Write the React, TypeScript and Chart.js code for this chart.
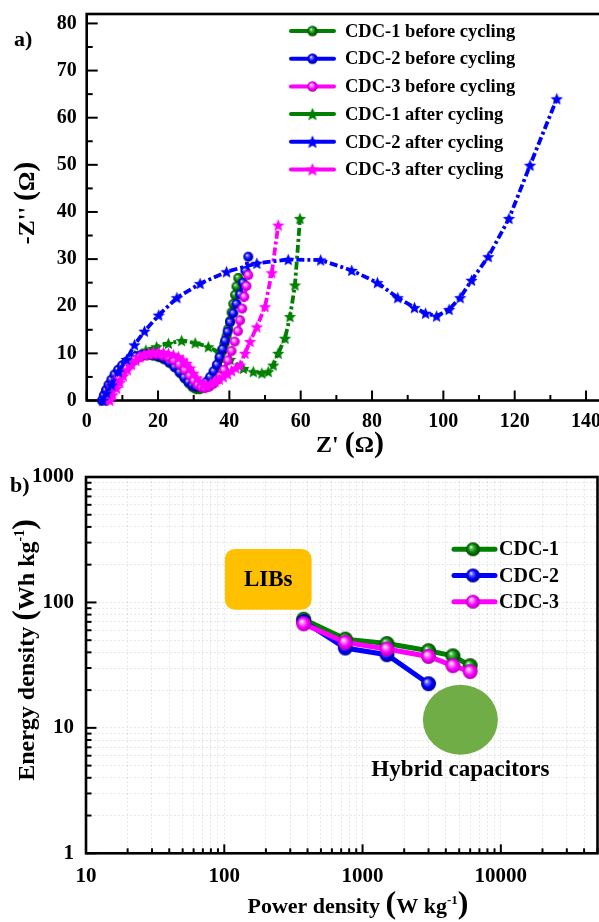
import React, { useEffect, useRef } from 'react';
import { Chart, registerables } from 'chart.js';

Chart.register(...registerables);

const FONT = '"Liberation Serif", "Times New Roman", Times, serif';

// ---------- Panel a) Nyquist plots: Z' (Ω) vs -Z'' (Ω) ----------
const cdc1BeforeRe = [4.5, 5, 5.6, 6.3, 7.1, 8, 9, 10.1, 11.3, 12.6, 14, 15.5, 17, 18.6, 20.2, 21.8, 23.4, 25, 26.4, 27.6, 28.7, 29.7, 30.7, 31.7, 32.7, 33.7, 34.7, 35.6, 36.5, 37.3, 38, 38.6, 39.2, 39.7, 40.2, 40.6, 41.1, 41.6, 42, 42.5];
const cdc1BeforeIm = [0, 1.1, 2.2, 3.3, 4.4, 5.5, 6.5, 7.4, 8.2, 8.8, 9.3, 9.5, 9.6, 9.5, 9.2, 8.7, 7.9, 6.9, 5.7, 4.6, 3.6, 2.8, 2.4, 2.4, 2.8, 3.6, 4.7, 6, 7.4, 8.8, 10.4, 12, 13.6, 15.2, 16.9, 18.7, 20.5, 22.4, 24.2, 26];

const cdc2BeforeRe = [4.3, 4.8, 5.4, 6.1, 6.9, 7.8, 8.8, 9.9, 11.1, 12.4, 13.8, 15.3, 16.8, 18.3, 19.9, 21.5, 23.1, 24.6, 26, 27.3, 28.5, 29.6, 30.6, 31.6, 32.6, 33.6, 34.6, 35.6, 36.5, 37.3, 38.1, 38.8, 39.5, 40.2, 41.1, 42, 43, 43.8, 44.5, 45.3];
const cdc2BeforeIm = [0, 1.1, 2.2, 3.3, 4.4, 5.5, 6.5, 7.4, 8.2, 8.9, 9.4, 9.7, 9.8, 9.7, 9.4, 8.9, 8.1, 7.1, 6, 4.9, 3.9, 3.2, 2.9, 2.9, 3.3, 4, 5, 6.2, 7.6, 9.2, 10.9, 12.7, 14.6, 16.6, 18.5, 20.5, 22.5, 25, 27.5, 30.5];

const cdc3BeforeRe = [5.5, 6, 6.6, 7.3, 8.1, 9, 10, 11.1, 12.3, 13.6, 15, 16.5, 18, 19.6, 21.2, 22.8, 24.4, 26, 27.5, 28.9, 30.1, 31.2, 32.2, 33.2, 34.3, 35.4, 36.5, 37.5, 38.5, 39.6, 40.6, 41.5, 42.4, 43, 43.6, 44.2, 44.8, 45.3];
const cdc3BeforeIm = [0, 1, 2, 3, 4, 5, 6, 6.9, 7.8, 8.6, 9.2, 9.6, 9.8, 9.8, 9.6, 9.2, 8.5, 7.6, 6.5, 5.3, 4.2, 3.3, 2.8, 2.6, 2.9, 3.5, 4.3, 5.2, 6.5, 8.5, 10.5, 12.5, 14.7, 17, 19.5, 22, 24.3, 26.6];

const cdc1AfterRe = [5, 6, 7.5, 9, 11, 13.5, 16.6, 19.6, 22.9, 26.6, 30.4, 34.1, 36.9, 40.2, 43.9, 46.7, 49.1, 50.9, 52.3, 53.7, 55.6, 57, 58.4, 59.8];
const cdc1AfterIm = [0, 2, 4, 6, 8, 9.6, 10.7, 11.4, 12.1, 12.7, 12.2, 11.4, 10.3, 8.7, 6.8, 6.1, 5.8, 6.1, 7.5, 10, 13.2, 17.8, 24.5, 38.6];

const cdc2AfterRe = [4.5, 5.6, 7, 8.9, 11.2, 13.4, 16.2, 20.2, 25.3, 31.8, 39.2, 47.7, 56.5, 65.6, 74.3, 81.5, 87.2, 91.9, 95, 98.1, 101.6, 104.7, 107.9, 112.6, 118.4, 124.3, 131.8];
const cdc2AfterIm = [0, 1.6, 3.3, 6.1, 8.7, 11.8, 14.7, 18.1, 21.8, 24.8, 27.3, 29.1, 29.9, 29.8, 27.6, 25, 21.8, 19.7, 18.5, 17.9, 19.3, 21.8, 25.5, 30.5, 38.6, 49.9, 64];

const cdc3AfterRe = [6.5, 7.3, 8.4, 9.3, 10.3, 11.4, 12.6, 13.8, 14.9, 16.1, 17.3, 18.7, 20.1, 21.5, 22.9, 24.3, 25.7, 27, 28, 29, 29.9, 30.9, 31.8, 32.7, 33.6, 34.8, 36, 37.2, 38.3, 39.5, 40.6, 41.8, 43, 44.4, 45.8, 47.7, 50, 51.9, 53.7];
const cdc3AfterIm = [0, 1.2, 2.6, 3.8, 5.2, 6.5, 7.6, 8.5, 9.2, 9.7, 10, 10.2, 10.3, 10.2, 10, 9.7, 9.3, 8.6, 7.9, 6.9, 5.8, 4.8, 4, 3.4, 3.3, 3.6, 4, 4.5, 5, 5.6, 6.3, 6.9, 7.5, 10, 12.5, 15.6, 19.9, 27.1, 37.2];

const nyquistLabels = [
  'CDC-1 before cycling',
  'CDC-2 before cycling',
  'CDC-3 before cycling',
  'CDC-1 after cycling',
  'CDC-2 after cycling',
  'CDC-3 after cycling',
];

// ---------- Panel b) Ragone plot ----------
const powerDensity = [375, 750, 1500, 3000, 4500, 6000];
const cdc1Energy = [73.5, 51, 47, 41.2, 37.5, 31.3];
const cdc2Energy = [70.5, 43.3, 38.3, 22.5];
const cdc3Energy = [67.5, 48, 42.5, 37.1, 31.3, 28.1];
const ragoneLabels = ['CDC-1', 'CDC-2', 'CDC-3'];

// annotation regions (data coordinates)
const libsRegion = { pMin: 101, pMax: 428, eMin: 87.4, eMax: 267 };
const hybridRegion = { p: 5100, e: 11.6, labelE: 4.62 };

const GREEN = '#008000';
const BLUE = '#0000ff';
const MAGENTA = '#ff00ff';

const SHADES: Record<string, { light: string; dark: string }> = {
  [GREEN]: { light: '#5cbf5c', dark: '#004000' },
  [BLUE]: { light: '#7070ff', dark: '#000090' },
  [MAGENTA]: { light: '#ff9cff', dark: '#b000b0' },
};

const zip = (xs: number[], ys: number[]) => ys.map((y, i) => ({ x: xs[i], y }));

function makeSphere(color: string, r: number) {
  const c = document.createElement('canvas');
  const s = Math.ceil(2 * r + 2);
  c.width = s;
  c.height = s;
  const g = c.getContext('2d')!;
  const cx = s / 2;
  const cy = s / 2;
  const grad = g.createRadialGradient(cx - r * 0.3, cy - r * 0.35, r * 0.02, cx, cy, r);
  grad.addColorStop(0, '#ffffff');
  grad.addColorStop(0.22, SHADES[color].light);
  grad.addColorStop(0.6, color);
  grad.addColorStop(1, SHADES[color].dark);
  g.fillStyle = grad;
  g.beginPath();
  g.arc(cx, cy, r, 0, Math.PI * 2);
  g.fill();
  return c;
}

function makeStar(color: string, R: number) {
  const c = document.createElement('canvas');
  const s = Math.ceil(2 * R + 2);
  c.width = s;
  c.height = s;
  const g = c.getContext('2d')!;
  const cx = s / 2;
  const cy = s / 2 + R * 0.08;
  g.fillStyle = color;
  g.beginPath();
  for (let i = 0; i < 10; i++) {
    const a = -Math.PI / 2 + (i * Math.PI) / 5;
    const rr = i % 2 === 0 ? R : R * 0.45;
    const px = cx + rr * Math.cos(a);
    const py = cy + rr * Math.sin(a);
    if (i === 0) g.moveTo(px, py);
    else g.lineTo(px, py);
  }
  g.closePath();
  g.fill();
  return c;
}

function logTicks(min: number, max: number) {
  const out: number[] = [];
  for (let e = Math.floor(Math.log10(min)); e <= Math.ceil(Math.log10(max)); e++) {
    for (let m = 1; m < 10; m++) {
      const v = Math.round(m * Math.pow(10, e) * 1e6) / 1e6;
      if (v >= min - 1e-9 && v <= max + 1e-9) out.push(v);
    }
  }
  return out;
}

const isPow10 = (v: number) => {
  const l = Math.log10(v);
  return Math.abs(l - Math.round(l)) < 1e-9;
};

const noPad = (s: any) => {
  s.paddingTop = 0;
  s.paddingBottom = 0;
  s.paddingLeft = 0;
  s.paddingRight = 0;
};

type Seg = { t: string; size: number; dy?: number };

function drawRich(ctx: CanvasRenderingContext2D, segs: Seg[], cx: number, cy: number, rotate: boolean) {
  ctx.save();
  ctx.translate(cx, cy);
  if (rotate) ctx.rotate(-Math.PI / 2);
  ctx.textAlign = 'left';
  ctx.textBaseline = 'alphabetic';
  ctx.fillStyle = '#000';
  let total = 0;
  const widths = segs.map((s) => {
    ctx.font = `bold ${s.size}px ${FONT}`;
    const w = ctx.measureText(s.t).width;
    total += w;
    return w;
  });
  let x = -total / 2;
  segs.forEach((s, i) => {
    ctx.font = `bold ${s.size}px ${FONT}`;
    ctx.fillText(s.t, x, s.dy || 0);
    x += widths[i];
  });
  ctx.restore();
}

function framePlugin(opts: {
  id: string;
  xMajor: (v: number) => boolean;
  yMajor: (v: number) => boolean;
  xMajorLen: number;
  xMinorLen: number;
  yMajorLen: number;
  yMinorLen: number;
  tickWidth: number;
  axisWidth: number;
}) {
  return {
    id: opts.id,
    beforeDatasetsDraw(chart: any) {
      const { ctx, chartArea: a } = chart;
      const xs = chart.scales.x;
      const ys = chart.scales.y;
      ctx.save();
      ctx.setLineDash([]);
      ctx.strokeStyle = '#000';
      ctx.lineCap = 'butt';
      ctx.lineWidth = opts.tickWidth;
      xs.ticks.forEach((t: any) => {
        const px = xs.getPixelForValue(t.value);
        if (px < a.left - 0.5 || px > a.right + 0.5) return;
        const len = opts.xMajor(t.value) ? opts.xMajorLen : opts.xMinorLen;
        ctx.beginPath();
        ctx.moveTo(px, a.bottom);
        ctx.lineTo(px, a.bottom - len);
        ctx.stroke();
      });
      ys.ticks.forEach((t: any) => {
        const py = ys.getPixelForValue(t.value);
        if (py < a.top - 0.5 || py > a.bottom + 0.5) return;
        const len = opts.yMajor(t.value) ? opts.yMajorLen : opts.yMinorLen;
        ctx.beginPath();
        ctx.moveTo(a.left, py);
        ctx.lineTo(a.left + len, py);
        ctx.stroke();
      });
      ctx.lineWidth = opts.axisWidth;
      ctx.lineCap = 'square';
      ctx.strokeRect(a.left, a.top, a.right - a.left, a.bottom - a.top);
      ctx.restore();
    },
  };
}

export default function App() {
  const topRef = useRef<HTMLCanvasElement | null>(null);
  const botRef = useRef<HTMLCanvasElement | null>(null);

  useEffect(() => {
    if (!topRef.current || !botRef.current) return;

    const sphereSmall = {
      [GREEN]: makeSphere(GREEN, 5),
      [BLUE]: makeSphere(BLUE, 5),
      [MAGENTA]: makeSphere(MAGENTA, 5),
    };
    const starSmall = {
      [GREEN]: makeStar(GREEN, 6.5),
      [BLUE]: makeStar(BLUE, 6.5),
      [MAGENTA]: makeStar(MAGENTA, 6.5),
    };
    const sphereLegendA = {
      [GREEN]: makeSphere(GREEN, 5.2),
      [BLUE]: makeSphere(BLUE, 5.2),
      [MAGENTA]: makeSphere(MAGENTA, 5.2),
    };
    const starLegendA = {
      [GREEN]: makeStar(GREEN, 7),
      [BLUE]: makeStar(BLUE, 7),
      [MAGENTA]: makeStar(MAGENTA, 7),
    };
    const sphereBig = {
      [GREEN]: makeSphere(GREEN, 7.5),
      [BLUE]: makeSphere(BLUE, 7.5),
      [MAGENTA]: makeSphere(MAGENTA, 7.5),
    };
    const sphereLegendB = {
      [GREEN]: makeSphere(GREEN, 7),
      [BLUE]: makeSphere(BLUE, 7),
      [MAGENTA]: makeSphere(MAGENTA, 7),
    };

    const tickFont = { family: FONT, weight: 'bold' as const, size: 20 };
    const dash = [8, 3, 3, 3];

    const nySeries = [
      { re: cdc1BeforeRe, im: cdc1BeforeIm, color: GREEN, star: false, order: 4 },
      { re: cdc2BeforeRe, im: cdc2BeforeIm, color: BLUE, star: false, order: 3 },
      { re: cdc3BeforeRe, im: cdc3BeforeIm, color: MAGENTA, star: false, order: 2 },
      { re: cdc1AfterRe, im: cdc1AfterIm, color: GREEN, star: true, order: 5 },
      { re: cdc2AfterRe, im: cdc2AfterIm, color: BLUE, star: true, order: 0 },
      { re: cdc3AfterRe, im: cdc3AfterIm, color: MAGENTA, star: true, order: 1 },
    ];

    const legendA = {
      id: 'legendA',
      afterDraw(chart: any) {
        const ctx = chart.ctx;
        ctx.save();
        nySeries.forEach((s, i) => {
          const y = 31 + i * 27.7;
          ctx.setLineDash([]);
          ctx.strokeStyle = s.color;
          ctx.lineWidth = 4;
          ctx.lineCap = 'round';
          ctx.beginPath();
          ctx.moveTo(291, y);
          ctx.lineTo(334, y);
          ctx.stroke();
          const img = s.star ? starLegendA[s.color] : sphereLegendA[s.color];
          ctx.drawImage(img, 312.5 - img.width / 2, y - img.height / 2);
          ctx.fillStyle = '#000';
          ctx.font = `bold 18.5px ${FONT}`;
          ctx.textAlign = 'left';
          ctx.textBaseline = 'middle';
          ctx.fillText(nyquistLabels[i], 345, y + 1);
        });
        ctx.font = `bold 22px ${FONT}`;
        ctx.textBaseline = 'middle';
        ctx.fillText('a)', 14, 40);
        ctx.restore();
        drawRich(ctx, [
          { t: "-Z''", size: 24 },
          { t: ' ', size: 24 },
          { t: '(', size: 30 },
          { t: 'Ω', size: 24 },
          { t: ')', size: 30 },
        ], 34, 203, true);
        drawRich(ctx, [
          { t: "Z'", size: 24 },
          { t: ' ', size: 24 },
          { t: '(', size: 30 },
          { t: 'Ω', size: 24 },
          { t: ')', size: 30 },
        ], 350, 452, false);
      },
    };

    const top = new Chart(topRef.current, {
      type: 'line',
      data: {
        datasets: nySeries.map((s, i) => ({
          label: nyquistLabels[i],
          data: zip(s.re, s.im),
          borderColor: s.color,
          backgroundColor: s.color,
          borderWidth: 3.8,
          borderDash: dash,
          pointStyle: s.star ? starSmall[s.color] : sphereSmall[s.color],
          pointRadius: 5,
          pointHoverRadius: 5,
          fill: false,
          tension: 0,
          order: s.order,
          clip: 12,
        })),
      },
      options: {
        responsive: false,
        animation: false,
        events: [],
        layout: { autoPadding: false, padding: { top: 14, right: 38.3, left: 0, bottom: 0 } },
        plugins: { legend: { display: false }, tooltip: { enabled: false } },
        scales: {
          x: {
            type: 'linear',
            min: 0,
            max: 150,
            afterFit: (s: any) => {
              s.height = 59.5;
              noPad(s);
            },
            grid: { display: false, drawTicks: false },
            border: { display: false },
            ticks: {
              stepSize: 10,
              autoSkip: false,
              includeBounds: false,
              maxRotation: 0,
              padding: 9,
              color: '#000',
              font: tickFont,
              callback: (v: any) => (Number(v) % 20 === 0 && Number(v) <= 140 ? String(v) : ''),
            },
          },
          y: {
            type: 'linear',
            min: 0,
            max: 82,
            afterFit: (s: any) => {
              s.width = 86.7;
              noPad(s);
            },
            grid: { display: false, drawTicks: false },
            border: { display: false },
            ticks: {
              stepSize: 5,
              autoSkip: false,
              includeBounds: false,
              padding: 10,
              color: '#000',
              font: tickFont,
              callback: (v: any) => (Number(v) % 10 === 0 ? String(v) : ''),
            },
          },
        },
      } as any,
      plugins: [
        framePlugin({
          id: 'frameA',
          xMajor: (v) => v % 20 === 0,
          yMajor: (v) => v % 10 === 0,
          xMajorLen: 10,
          xMinorLen: 5.5,
          yMajorLen: 11,
          yMinorLen: 6,
          tickWidth: 2,
          axisWidth: 2.6,
        }),
        legendA,
      ],
    });

    // ---------- bottom chart ----------
    const rgSeries = [
      { e: cdc1Energy, color: GREEN, order: 2 },
      { e: cdc2Energy, color: BLUE, order: 1 },
      { e: cdc3Energy, color: MAGENTA, order: 0 },
    ];

    const annotB = {
      id: 'annotB',
      beforeDatasetsDraw(chart: any) {
        const { ctx } = chart;
        const xs = chart.scales.x;
        const ys = chart.scales.y;
        ctx.save();
        const x0 = xs.getPixelForValue(libsRegion.pMin);
        const x1 = xs.getPixelForValue(libsRegion.pMax);
        const y0 = ys.getPixelForValue(libsRegion.eMax);
        const y1 = ys.getPixelForValue(libsRegion.eMin);
        ctx.fillStyle = '#ffc000';
        ctx.beginPath();
        (ctx as any).roundRect(x0, y0, x1 - x0, y1 - y0, 10);
        ctx.fill();
        ctx.fillStyle = '#000';
        ctx.font = `bold 23px ${FONT}`;
        ctx.textAlign = 'center';
        ctx.textBaseline = 'middle';
        ctx.fillText('LIBs', (x0 + x1) / 2, (y0 + y1) / 2 + 1);

        const cx = xs.getPixelForValue(hybridRegion.p);
        const cy = ys.getPixelForValue(hybridRegion.e);
        ctx.fillStyle = '#70ad47';
        ctx.beginPath();
        ctx.ellipse(cx, cy, 37.5, 35, 0, 0, Math.PI * 2);
        ctx.fill();
        ctx.fillStyle = '#000';
        ctx.fillText('Hybrid capacitors', cx, ys.getPixelForValue(hybridRegion.labelE));
        ctx.restore();
      },
      afterDraw(chart: any) {
        const ctx = chart.ctx;
        ctx.save();
        rgSeries.forEach((s, i) => {
          const y = 89.3 + i * 26.2;
          ctx.setLineDash([]);
          ctx.strokeStyle = s.color;
          ctx.lineWidth = 5;
          ctx.lineCap = 'round';
          ctx.beginPath();
          ctx.moveTo(454, y);
          ctx.lineTo(495, y);
          ctx.stroke();
          const img = sphereLegendB[s.color];
          ctx.drawImage(img, 473 - img.width / 2, y - img.height / 2);
          ctx.fillStyle = '#000';
          ctx.font = `bold 20px ${FONT}`;
          ctx.textAlign = 'left';
          ctx.textBaseline = 'middle';
          ctx.fillText(ragoneLabels[i], 499, y + 1);
        });
        ctx.font = `bold 22px ${FONT}`;
        ctx.textBaseline = 'middle';
        ctx.fillText('b)', 10, 26);
        ctx.restore();
        drawRich(ctx, [
          { t: 'Energy density', size: 24 },
          { t: ' ', size: 24 },
          { t: '(', size: 32 },
          { t: 'Wh kg', size: 24 },
          { t: '-1', size: 14, dy: -10 },
          { t: ')', size: 32 },
        ], 34, 190, true);
        drawRich(ctx, [
          { t: 'Power density', size: 22 },
          { t: ' ', size: 22 },
          { t: '(', size: 32 },
          { t: 'W kg', size: 22 },
          { t: '-1', size: 13, dy: -9 },
          { t: ')', size: 32 },
        ], 358, 452.5, false);
      },
    };

    const bTickFont = { family: FONT, weight: 'bold' as const, size: 21 };
    const gridCfg = { display: true, drawTicks: false, color: 'rgba(0,0,0,0.09)', lineWidth: 1 };

    const bot = new Chart(botRef.current, {
      type: 'line',
      data: {
        datasets: rgSeries.map((s, i) => ({
          label: ragoneLabels[i],
          data: zip(powerDensity, s.e),
          borderColor: s.color,
          backgroundColor: s.color,
          borderWidth: 5,
          pointStyle: sphereBig[s.color],
          pointRadius: 7.5,
          pointHoverRadius: 7.5,
          fill: false,
          tension: 0,
          order: s.order,
          clip: 12,
        })),
      },
      options: {
        responsive: false,
        animation: false,
        events: [],
        layout: { autoPadding: false, padding: { top: 17, right: 1.5, left: 0, bottom: 0 } },
        plugins: { legend: { display: false }, tooltip: { enabled: false } },
        scales: {
          x: {
            type: 'logarithmic',
            min: 10,
            max: 50000,
            afterBuildTicks: (s: any) => {
              s.ticks = logTicks(10, 50000).map((v) => ({ value: v }));
            },
            afterFit: (s: any) => {
              s.height = 68.7;
              noPad(s);
            },
            grid: gridCfg,
            border: { display: false, dash: [2, 2] },
            ticks: {
              autoSkip: false,
              maxRotation: 0,
              padding: 11,
              color: '#000',
              font: bTickFont,
              callback: (v: any) => (isPow10(Number(v)) ? String(v) : ''),
            },
          },
          y: {
            type: 'logarithmic',
            min: 1,
            max: 1000,
            afterBuildTicks: (s: any) => {
              s.ticks = logTicks(1, 1000).map((v) => ({ value: v }));
            },
            afterFit: (s: any) => {
              s.width = 86;
              noPad(s);
            },
            grid: gridCfg,
            border: { display: false, dash: [2, 2] },
            ticks: {
              autoSkip: false,
              padding: 12,
              color: '#000',
              font: bTickFont,
              callback: (v: any) => (isPow10(Number(v)) ? String(v) : ''),
            },
          },
        },
      } as any,
      plugins: [
        framePlugin({
          id: 'frameB',
          xMajor: isPow10,
          yMajor: isPow10,
          xMajorLen: 9,
          xMinorLen: 5,
          yMajorLen: 10.5,
          yMinorLen: 5.5,
          tickWidth: 2,
          axisWidth: 2.6,
        }),
        annotB,
      ],
    });

    return () => {
      top.destroy();
      bot.destroy();
    };
  }, []);

  return (
    <div
      style={{
        position: 'absolute',
        left: 0,
        top: 0,
        width: 599,
        height: 922,
        overflow: 'hidden',
        background: '#fff',
      }}
    >
      <canvas
        ref={topRef}
        width={660}
        height={460}
        style={{ position: 'absolute', left: 0, top: 0, width: 660, height: 460 }}
      />
      <canvas
        ref={botRef}
        width={599}
        height={462}
        style={{ position: 'absolute', left: 0, top: 460, width: 599, height: 462 }}
      />
    </div>
  );
}
